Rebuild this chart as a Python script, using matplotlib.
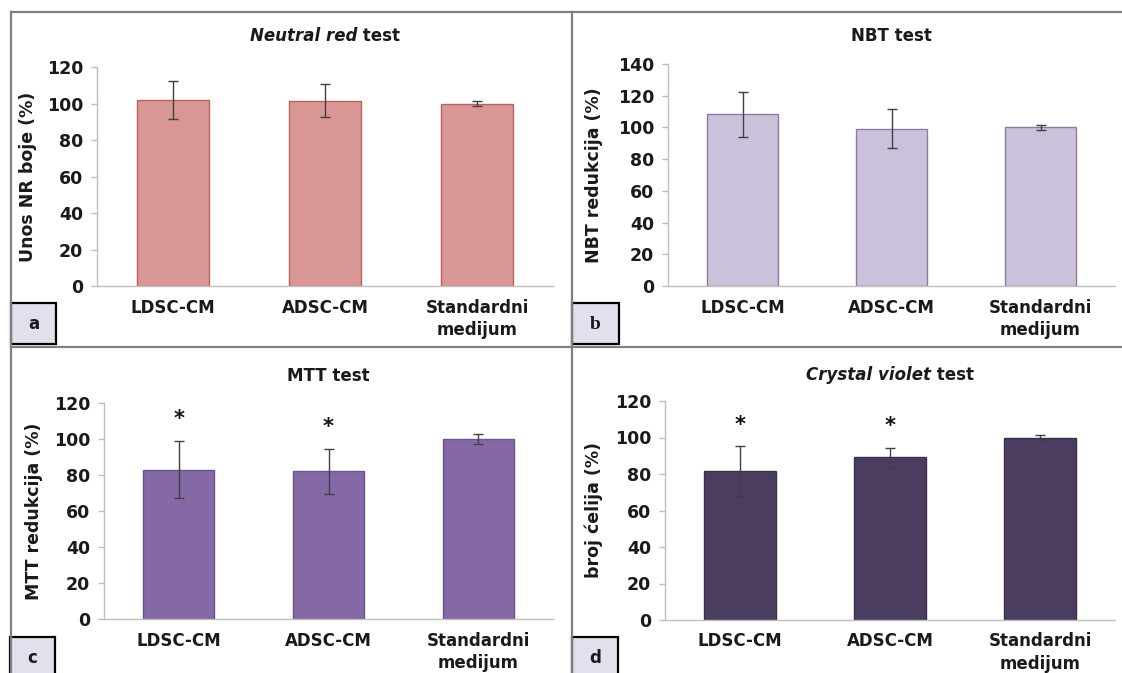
import matplotlib
matplotlib.use("Agg")
import matplotlib.pyplot as plt
from matplotlib.patches import Rectangle
from matplotlib.lines import Line2D

W, H = 1122, 673

# data
groups = ["LDSC-CM", "ADSC-CM", "Standardni\nmedijum"]

nr_mean = [102.0, 101.5, 100.0]
nr_err = [10.3, 9.0, 1.2]

nbt_mean = [108.3, 99.3, 100.0]
nbt_err = [14.2, 12.5, 1.5]

mtt_mean = [83.0, 82.0, 100.0]
mtt_err = [16.0, 12.7, 2.7]

cv_mean = [81.6, 89.1, 100.0]
cv_err = [13.5, 5.0, 1.3]

mtt_stars = [True, True, False]
cv_stars = [True, True, False]

plt.rcParams["font.family"] = ["DejaVu Sans"]
plt.rcParams["font.weight"] = "bold"

fig = plt.figure(figsize=(W / 100, H / 100), dpi=100)
fig.patch.set_facecolor("white")


def px_axes(x0, y0, x1, y1):
    # pixel box (top-left origin) -> figure fraction axes
    return fig.add_axes([x0 / W, 1 - y1 / H, (x1 - x0) / W, (y1 - y0) / H])


def fig_xy(x, y):
    return x / W, 1 - y / H


panels = [
    dict(box=(97, 67, 553, 286), title=[("Neutral red", "italic"), (" test", "normal")],
         ty=36, ylabel="Unos NR boje (%)", lx=37, ymax=120,
         mean=nr_mean, err=nr_err, stars=None, fc="#D99694", ec="#B8625F"),
    dict(box=(668, 64, 1115, 286), title=[("NBT test", "normal")],
         ty=36, ylabel="NBT redukcija (%)", lx=603, ymax=140,
         mean=nbt_mean, err=nbt_err, stars=None, fc="#CCC1DA", ec="#8A7BA0"),
    dict(box=(104, 403, 553, 619), title=[("MTT test", "normal")],
         ty=376, ylabel="MTT redukcija (%)", lx=43, ymax=120,
         mean=mtt_mean, err=mtt_err, stars=mtt_stars, fc="#8568A6", ec="#6C5290"),
    dict(box=(665, 401, 1115, 620), title=[("Crystal violet", "italic"), (" test", "normal")],
         ty=375, ylabel="broj ćelija (%)", lx=603, ymax=120,
         mean=cv_mean, err=cv_err, stars=cv_stars, fc="#4B3D5F", ec="#3B2F4C"),
]

axis_grey = "#BFBFBF"
xs = list(range(len(groups)))

for p in panels:
    ax = px_axes(*p["box"])
    ax.bar(xs, p["mean"], width=0.475, color=p["fc"], edgecolor=p["ec"], linewidth=1.0, zorder=2)
    ax.errorbar(xs, p["mean"], yerr=p["err"], fmt="none", ecolor="#404040",
                elinewidth=1.0, capsize=3.5, capthick=1.0, zorder=3)
    if p["stars"]:
        for x, m, e, s in zip(xs, p["mean"], p["err"], p["stars"]):
            if s:
                ax.text(x, m + e + 12, "*", ha="center", va="center",
                        fontsize=15, fontweight="bold", color="#111111")
    ax.set_xlim(-0.5, 2.5)
    ax.set_ylim(0, p["ymax"])
    ax.set_yticks(range(0, p["ymax"] + 1, 20))
    ax.set_xticks(xs)
    ax.set_xticklabels(groups, fontsize=12, fontweight="bold", linespacing=1.3)
    for lab in ax.get_yticklabels():
        lab.set_fontsize(12.5)
        lab.set_fontweight("bold")
    ax.tick_params(axis="x", length=0, pad=9, colors="#1a1a1a")
    ax.tick_params(axis="y", length=4, width=1, color=axis_grey, pad=6, labelcolor="#1a1a1a")
    for s in ["top", "right"]:
        ax.spines[s].set_visible(False)
    for s in ["left", "bottom"]:
        ax.spines[s].set_color(axis_grey)
        ax.spines[s].set_linewidth(1.0)
    x0, y0, x1, y1 = p["box"]
    ax.set_ylabel(p["ylabel"], fontsize=12.5, fontweight="bold", color="#1a1a1a")
    ax.yaxis.set_label_coords((p["lx"] - x0) / (x1 - x0), 0.5)

    # title with mixed italic / upright parts, centred over the axes
    cx = (x0 + x1) / 2
    renderer = fig.canvas.get_renderer()
    texts = []
    for txt, style in p["title"]:
        t = fig.text(0, 0, txt, fontsize=12, fontweight="bold", style=style,
                     color="#1a1a1a", ha="left", va="center")
        texts.append(t)
    widths = [t.get_window_extent(renderer).width for t in texts]
    start = cx - sum(widths) / 2
    for t, w in zip(texts, widths):
        t.set_position(fig_xy(start, p["ty"]))
        start += w

# panel frame lines
frame = "#808080"
for (xa, ya, xb, yb) in [(11, 12, W, 12), (11, 12, 11, H), (572, 12, 572, H), (11, 347, W, 347)]:
    fig.add_artist(Line2D([xa / W, xb / W], [1 - ya / H, 1 - yb / H], color=frame, lw=1.6))

# panel letter boxes
letters = [("a", 11, 303, 56, 344, "DejaVu Sans"), ("b", 572, 303, 619, 344, "Liberation Serif"),
           ("c", 10, 637, 55, 678, "DejaVu Sans"), ("d", 572, 637, 618, 678, "DejaVu Sans")]
for lab, xa, ya, xb, yb, fam in letters:
    fig.add_artist(Rectangle((xa / W, 1 - yb / H), (xb - xa) / W, (yb - ya) / H,
                             facecolor="#E4DFEC", edgecolor="black", lw=1.6,
                             transform=fig.transFigure, clip_on=False))
    fig.text((xa + xb) / 2 / W, 1 - (ya + 21) / H, lab, family=fam,
             fontsize=14 if fam != "DejaVu Sans" else 12,
             fontweight="bold", ha="center", va="center", color="#1a1a1a")

fig.savefig("out.png", dpi=100, facecolor="white")
